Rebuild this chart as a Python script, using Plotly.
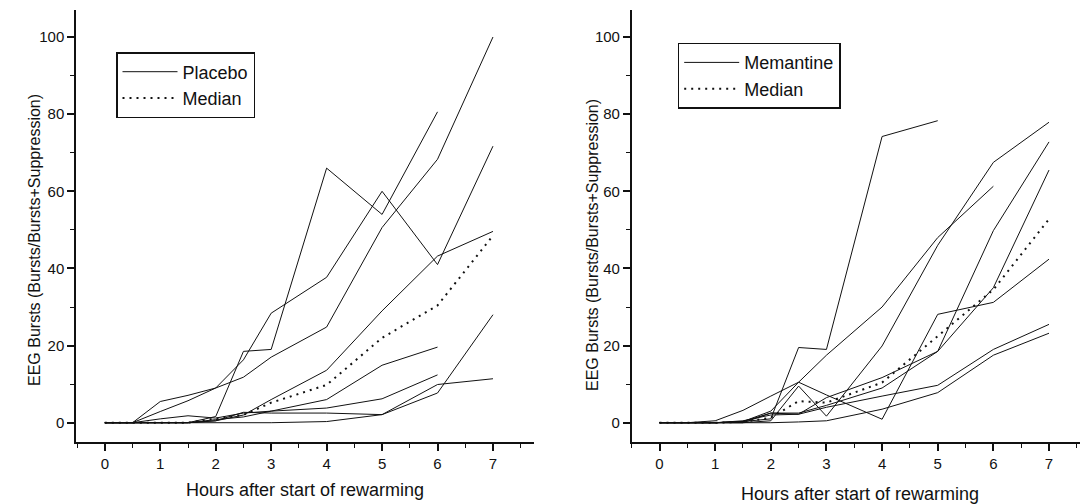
import plotly.graph_objects as go

hours = [0, 0.5, 1, 1.5, 2, 2.5, 3, 4, 5, 6, 7]

# Placebo group (individual animals), EEG bursts %
placebo_a = [0, 0, 0, 0, 1.6, 18.5, 19, 66, 54, 80.6, None]
placebo_b = [0, 0, 5.5, 7.1, 9, 16.3, 28.4, 37.7, 60, 41, 71.7]
placebo_c = [0, 0, 2.9, 5.7, 9, 11.8, 17, 24.8, 50.6, 68.3, 100]
placebo_d = [0, 0, 0, 0, 0.5, 2, 6, 13.6, 29, 43.2, 49.6]
placebo_e = [0, 0, 1, 1.8, 1.2, 2.5, 3, 6, 14.9, 19.6, None]
placebo_f = [0, 0, 0, 0, 0.8, 1.5, 3, 3.8, 6.2, 12.4, None]
placebo_g = [0, 0, 0, 0, 0.5, 2.7, 2.5, 2.5, 2.1, 9.9, 11.4]
placebo_h = [0, 0, 0, 0, 0, 0, 0, 0.3, 2.1, 7.7, 28]
placebo_median = [0, 0, 0, 0, 1.1, 2, 5.2, 9.8, 22, 30.4, 48.5]

# Memantine group
mem_a = [0, 0, 0, 0.3, 1, 19.5, 19, 74.2, 78.3, None, None]
mem_b = [0, 0, 0.5, 3.2, 6.9, 10.5, 17.5, 30, 48, 61.3, None]
mem_c = [0, 0, 0, 0, 0.5, 9.5, 1.7, 19.9, 46, 67.5, 77.9]
mem_d = [0, 0, 0, 0.5, 2, 2.2, 6.5, 11.7, 18.5, 49.8, 72.8]
mem_e = [0, 0, 0, 0.3, 3, 10.5, 7.2, 0.9, 28.1, 31.2, 42.4]
mem_f = [0, 0, 0, 0, 2.5, 2.5, 4.5, 9, 18.5, 35, 65.5]
mem_g = [0, 0, 0, 0.3, 2.5, 2.2, 4, 6.9, 9.7, 19, 25.5]
mem_h = [0, 0, 0, 0, 0, 0.2, 0.5, 3.5, 7.8, 17.5, 23.2]
mem_median = [0, 0, 0, 0.2, 1.3, 5.6, 5.2, 10.4, 22.5, 34.5, 52.8]

x_ticks = [0, 1, 2, 3, 4, 5, 6, 7]
y_ticks = [0, 20, 40, 60, 80, 100]

FONT = "Liberation Sans, Arial, sans-serif"
INK = "#111111"

placebo_lines = [placebo_a, placebo_b, placebo_c, placebo_d,
                 placebo_e, placebo_f, placebo_g, placebo_h]
mem_lines = [mem_a, mem_b, mem_c, mem_d, mem_e, mem_f, mem_g, mem_h]

fig = go.Figure()

def add_group(lines, median, name, xa, ya, legend):
    for i, ys in enumerate(lines):
        fig.add_trace(go.Scatter(
            x=hours, y=ys, mode="lines", name=name,
            line=dict(color=INK, width=1),
            showlegend=(i == 0), legend=legend,
            xaxis=xa, yaxis=ya, connectgaps=False))
    fig.add_trace(go.Scatter(
        x=hours, y=median, mode="lines", name="Median",
        line=dict(color=INK, width=2, dash="2px,5px"),
        showlegend=True, legend=legend, xaxis=xa, yaxis=ya))

add_group(placebo_lines, placebo_median, "Placebo", "x", "y", "legend")
add_group(mem_lines, mem_median, "Memantine", "x2", "y2", "legend2")

W, H = 1080, 504
def px(v):
    return v / W
def py(v):
    return 1 - v / H

axis_common = dict(
    showline=True, linewidth=1.5, linecolor=INK, mirror=False,
    showgrid=False, zeroline=False, ticks="outside", ticklen=7,
    tickwidth=1.5, tickcolor=INK, tickfont=dict(family=FONT, size=15, color=INK),
    automargin=False,
)

xcommon = dict(axis_common, tickvals=x_ticks,
               minor=dict(dtick=0.5, tick0=0, ticks="outside", ticklen=4,
                          tickwidth=1.2, tickcolor=INK))
ycommon = dict(axis_common, tickvals=y_ticks,
               minor=dict(dtick=10, tick0=0, ticks="outside", ticklen=4,
                          tickwidth=1.2, tickcolor=INK))

y_dom = [py(442), py(10)]
legend_style = dict(xanchor="left", yanchor="top",
                    bordercolor=INK, borderwidth=1.5, bgcolor="white",
                    font=dict(family=FONT, size=18, color=INK), itemwidth=55,
                    tracegroupgap=0)
fig.update_layout(
    width=W, height=H,
    margin=dict(l=0, r=0, t=0, b=0),
    paper_bgcolor="white", plot_bgcolor="white",
    font=dict(family=FONT, color=INK),
    xaxis=dict(xcommon, domain=[px(76), px(534)], range=[-0.52, 7.74], anchor="y"),
    yaxis=dict(ycommon, domain=y_dom, range=[-5, 107], anchor="x"),
    xaxis2=dict(xcommon, domain=[px(631.7), 1.0], range=[-0.5, 7.557], anchor="y2"),
    yaxis2=dict(ycommon, domain=y_dom, range=[-5, 107], anchor="x2"),
    legend=dict(legend_style, x=px(116), y=py(52)),
    legend2=dict(legend_style, x=px(677.7), y=py(42.7)),
)

ytitle = "EEG Bursts (Bursts/Bursts+Suppression)"
xtitle = "Hours after start of rewarming"
annots = [
    dict(text=xtitle, x=px(305), y=py(490), size=18, angle=0),
    dict(text=xtitle, x=px(860), y=py(494), size=18, angle=0),
    dict(text=ytitle, x=px(34), y=py(240), size=16, angle=-90),
    dict(text=ytitle, x=px(592), y=py(245), size=16, angle=-90),
]
for a in annots:
    fig.add_annotation(xref="paper", yref="paper", showarrow=False,
                       xanchor="center", yanchor="middle",
                       font=dict(family=FONT, size=a["size"], color=INK),
                       text=a["text"], x=a["x"], y=a["y"],
                       textangle=a["angle"])

fig.write_html("out.html")
